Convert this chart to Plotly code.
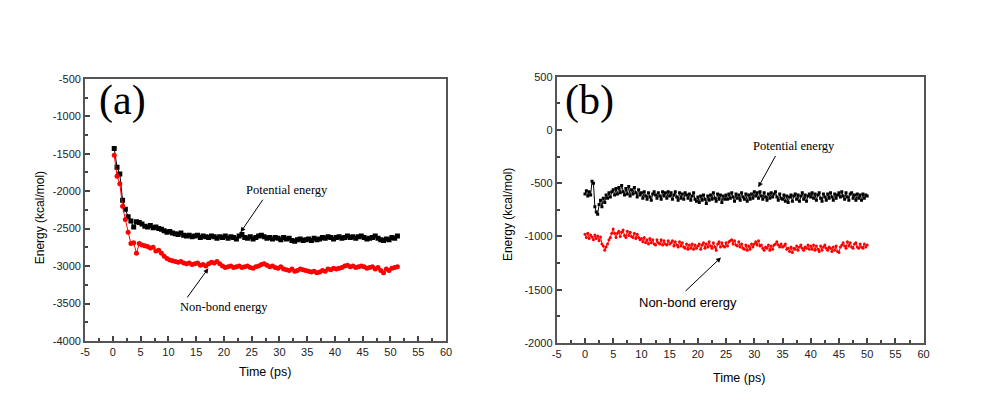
import numpy as np
import plotly.graph_objects as go

# ---------------- data ----------------
# Panel (a): sampled every 0.5 ps starting at 0.25 ps
pot_a = [-1430, -1680, -1770, -2120, -2240, -2340, -2400, -2480, -2410, -2420,
         -2440, -2470, -2480, -2460, -2490, -2480, -2500, -2510, -2530, -2550,
         -2540, -2560, -2570, -2580, -2560, -2590, -2600, -2590, -2610, -2600,
         -2590, -2620, -2600, -2610, -2620, -2600, -2610, -2630, -2610, -2620,
         -2600, -2630, -2610, -2620, -2640, -2600, -2580, -2620, -2630, -2610,
         -2640, -2620, -2600, -2590, -2610, -2630, -2620, -2640, -2620, -2630,
         -2650, -2620, -2640, -2630, -2660, -2670, -2650, -2640, -2660, -2650,
         -2640, -2660, -2630, -2650, -2640, -2620, -2630, -2610, -2620, -2640,
         -2620, -2610, -2630, -2620, -2600, -2620, -2610, -2630, -2610, -2600,
         -2620, -2640, -2630, -2620, -2600, -2630, -2650, -2660, -2640, -2650,
         -2620, -2630, -2600]
nb_a = [-1520, -1800, -1900, -2200, -2380, -2550, -2700, -2690, -2830, -2700,
        -2720, -2730, -2740, -2760, -2750, -2800, -2790, -2830, -2870, -2900,
        -2920, -2930, -2940, -2950, -2940, -2960, -2970, -2960, -2980, -2970,
        -2960, -2990, -2980, -3000, -2970, -2950, -2960, -2940, -2970, -3000,
        -3020, -3010, -3000, -3020, -3010, -3000, -3020, -3010, -3000, -3020,
        -3030, -3010, -3000, -2980, -2970, -2990, -3010, -3000, -3020, -3030,
        -3010, -3040, -3050, -3060, -3040, -3070, -3060, -3040, -3050, -3060,
        -3070, -3080, -3070, -3090, -3080, -3060, -3070, -3040, -3050, -3030,
        -3040, -3030, -3020, -3000, -2990, -3010, -3000, -3020, -3010, -3000,
        -3010, -3030, -3020, -3010, -3040, -3020, -3060, -3090, -3040, -3060,
        -3030, -3020, -3010]
time_a = 0.25 + 0.5 * np.arange(len(pot_a))

# Panel (b): sampled every 0.25 ps starting at 0 ps
pot_b = [-600, -570, -620, -580, -610, -480, -500, -720, -770, -790, -700, -660, -720, -640, -680, -610, -640, -590, -630, -580,
         -560, -610, -550, -600, -540, -590, -520, -580, -610, -550, -600, -530, -620, -560, -600, -540, -590, -630, -560, -610,
         -590, -640, -580, -620, -650, -590, -630, -660, -600, -580, -610, -640, -590, -620, -650, -580, -620, -590, -640, -580,
         -620, -590, -650, -610, -580, -630, -660, -590, -640, -600, -650, -590, -610, -640, -600, -660, -620, -590, -650, -670,
         -630, -680, -620, -660, -610, -650, -690, -620, -660, -610, -650, -590, -640, -670, -600, -650, -610, -680, -620, -650,
         -610, -650, -600, -640, -590, -630, -670, -600, -640, -610, -660, -590, -630, -650, -600, -670, -610, -650, -600, -640,
         -580, -620, -590, -640, -580, -620, -650, -590, -630, -660, -600, -640, -590, -630, -600, -580, -630, -660, -600, -640,
         -650, -610, -670, -620, -680, -630, -610, -670, -620, -600, -650, -610, -670, -620, -590, -650, -610, -670, -620, -600,
         -630, -590, -640, -600, -660, -610, -590, -640, -670, -600, -630, -660, -600, -640, -590, -630, -660, -600, -640, -610,
         -590, -630, -580, -620, -650, -590, -630, -660, -600, -590, -640, -610, -660, -600, -640, -610, -660, -600, -640, -610, -620]
nb_b = [-980, -1010, -970, -1020, -985, -1005, -1030, -985, -1020, -995, -1040, -1005, -1070, -1090, -1130, -1100, -1070, -1030, -1010, -970,
        -930, -970, -1010, -970, -950, -1000, -960, -940, -990, -1010, -950, -990, -960, -1000, -1010, -970, -1020, -980, -1010, -1030,
        -1020, -1050, -1010, -1060, -1030, -1070, -1020, -1060, -1030, -1070, -1080, -1030, -1060, -1070, -1030, -1080, -1040, -1070, -1080, -1040,
        -1070, -1060, -1040, -1090, -1050, -1080, -1100, -1050, -1090, -1060, -1100, -1110, -1070, -1120, -1080, -1110, -1070, -1120, -1080, -1110,
        -1090, -1070, -1120, -1080, -1060, -1110, -1070, -1100, -1050, -1090, -1110, -1060, -1100, -1130, -1070, -1050, -1100, -1060, -1090, -1100,
        -1060, -1090, -1050, -1040, -1030, -1070, -1040, -1080, -1090, -1050, -1100, -1070, -1110, -1120, -1080, -1130, -1090, -1120, -1070, -1100,
        -1070, -1050, -1080, -1040, -1090, -1080, -1110, -1130, -1100, -1110, -1080, -1130, -1090, -1120, -1080, -1070, -1050, -1080, -1100, -1070,
        -1100, -1090, -1070, -1120, -1110, -1140, -1100, -1150, -1110, -1120, -1090, -1130, -1100, -1080, -1110, -1130, -1100, -1110, -1080, -1120,
        -1090, -1120, -1080, -1130, -1090, -1120, -1140, -1090, -1130, -1100, -1080, -1110, -1130, -1100, -1110, -1140, -1100, -1130, -1090, -1140,
        -1150, -1100, -1080, -1060, -1090, -1110, -1050, -1090, -1060, -1100, -1110, -1070, -1060, -1100, -1110, -1070, -1100, -1110, -1070, -1100, -1080]
time_b = 0.25 * np.arange(len(pot_b))

x_ticks = list(range(-5, 61, 5))
y_ticks_a = list(range(-4000, -499, 500))
y_ticks_b = list(range(-2000, 501, 500))

# ---------------- figure ----------------
fig = go.Figure()
fig.add_trace(go.Scatter(x=time_a, y=pot_a, mode="lines+markers",
                         line=dict(color="black", width=1),
                         marker=dict(symbol="square", size=5, color="black"),
                         xaxis="x", yaxis="y", showlegend=False))
fig.add_trace(go.Scatter(x=time_a, y=nb_a, mode="lines+markers",
                         line=dict(color="#ff0000", width=1),
                         marker=dict(symbol="circle", size=5, color="#ff0000"),
                         xaxis="x", yaxis="y", showlegend=False))
fig.add_trace(go.Scatter(x=time_b, y=pot_b, mode="lines+markers",
                         line=dict(color="black", width=1),
                         marker=dict(symbol="square", size=3, color="black"),
                         xaxis="x2", yaxis="y2", showlegend=False))
fig.add_trace(go.Scatter(x=time_b, y=nb_b, mode="lines+markers",
                         line=dict(color="#ff0000", width=1),
                         marker=dict(symbol="circle", size=3, color="#ff0000"),
                         xaxis="x2", yaxis="y2", showlegend=False))

tickfont = dict(family="Liberation Sans, Arial", size=11, color="#222")
axis_common = dict(showline=True, linecolor="#555", linewidth=2, mirror=True,
                   ticks="inside", ticklen=5, tickwidth=1.5, tickcolor="#444",
                   showgrid=False, zeroline=False, tickfont=tickfont)


def labels(vals):
    return [str(v) for v in vals]


fig.update_layout(
    width=984, height=412,
    margin=dict(l=0, r=0, t=0, b=0),
    paper_bgcolor="white", plot_bgcolor="white",
    xaxis=dict(domain=[81/984, 446/984], range=[-5, 60], tickvals=x_ticks, ticktext=labels(x_ticks),
               minor=dict(ticks="inside", ticklen=3, dtick=2.5, tickcolor="#444"),
               anchor="y", **axis_common),
    yaxis=dict(domain=[1-345/412, 1-75/412], range=[-4000, -500], tickvals=y_ticks_a, ticktext=labels(y_ticks_a),
               minor=dict(ticks="inside", ticklen=3, dtick=250, tickcolor="#444"),
               anchor="x", **axis_common),
    xaxis2=dict(domain=[558/984, 929/984], range=[-5, 60], tickvals=x_ticks, ticktext=labels(x_ticks),
                minor=dict(ticks="inside", ticklen=3, dtick=2.5, tickcolor="#444"),
                anchor="y2", **axis_common),
    yaxis2=dict(domain=[1-347/412, 1-73/412], range=[-2000, 500], tickvals=y_ticks_b, ticktext=labels(y_ticks_b),
                minor=dict(ticks="inside", ticklen=3, dtick=250, tickcolor="#444"),
                anchor="x2", **axis_common),
)

serif = "Liberation Serif, Times New Roman, serif"
sans = "Liberation Sans, Arial, sans-serif"


def ptext(text, px, py, size, family, angle=0):
    return dict(text=text, x=px/984, y=1-py/412, xref="paper", yref="paper",
                xanchor="center", yanchor="middle", textangle=angle,
                showarrow=False, font=dict(family=family, size=size, color="black"))


annots = [
    # panel labels
    ptext("(a)", 119, 97, 42, serif),
    ptext("(b)", 591, 97, 42, serif),
    # axis titles
    ptext("Energy (kcal/mol)", 35, 218, 12, sans, -90),
    ptext("Energy (kcal/mol)", 508, 215, 12, sans, -90),
    ptext("Time (ps)", 263, 377, 12.5, sans),
    ptext("Time (ps)", 742, 383, 12.5, sans),
    # panel (a) labels
    dict(text="Potential energy", x=31.3, y=-1978, xref="x", yref="y",
         showarrow=False, font=dict(family=serif, size=12.5, color="black")),
    dict(text="", x=23.0, y=-2548, ax=27.2, ay=-2094, xref="x", yref="y",
         axref="x", ayref="y", showarrow=True, arrowhead=2, arrowsize=1,
         arrowwidth=1, arrowcolor="black"),
    dict(text="Non-bond energy", x=20.1, y=-3546, xref="x", yref="y",
         showarrow=False, font=dict(family=serif, size=12.5, color="black")),
    dict(text="", x=17.2, y=-3030, ax=13.2, ay=-3439, xref="x", yref="y",
         axref="x", ayref="y", showarrow=True, arrowhead=2, arrowsize=1,
         arrowwidth=1, arrowcolor="black"),
    # panel (b) labels
    dict(text="Potential energy", x=37.0, y=-148, xref="x2", yref="y2",
         showarrow=False, font=dict(family=serif, size=12.5, color="black")),
    dict(text="", x=30.7, y=-537, ax=33.9, ay=-230, xref="x2", yref="y2",
         axref="x2", ayref="y2", showarrow=True, arrowhead=2, arrowsize=1,
         arrowwidth=1, arrowcolor="black"),
    dict(text="Non-bond erergy", x=18.3, y=-1617, xref="x2", yref="y2",
         showarrow=False, font=dict(family=sans, size=13, color="black")),
    dict(text="", x=24.1, y=-1197, ax=17.55, ay=-1526, xref="x2", yref="y2",
         axref="x2", ayref="y2", showarrow=True, arrowhead=2, arrowsize=1,
         arrowwidth=1, arrowcolor="black"),
]
fig.update_layout(annotations=annots)

fig.write_html("out.html")
